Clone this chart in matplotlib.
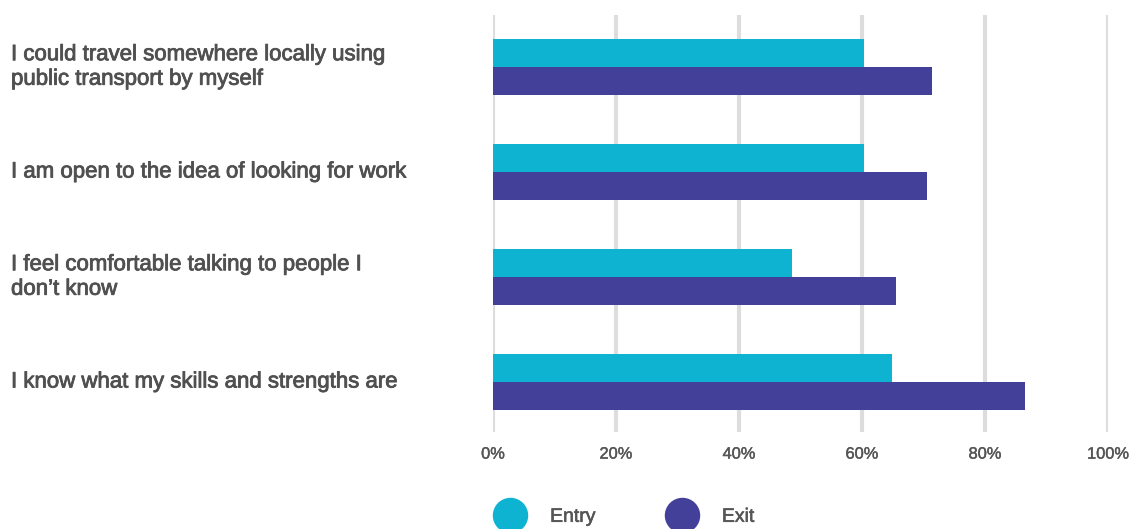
import matplotlib
matplotlib.use("Agg")
import matplotlib.pyplot as plt
import matplotlib.transforms as mtrans
import matplotlib.patheffects as pe
from matplotlib.lines import Line2D
import numpy as np

plt.rcParams['font.family'] = ['Liberation Sans', 'DejaVu Sans']

# data
kategorier = [
    "I could travel somewhere locally using\npublic transport by myself",
    "I am open to the idea of looking for work",
    "I feel comfortable talking to people I\ndon\u2019t know",
    "I know what my skills and strengths are",
]
entry = [60.3, 60.3, 48.6, 64.9]
exit_ = [71.4, 70.6, 65.5, 86.5]
xticks = [0, 20, 40, 60, 80, 100]
xticklabels = ["0%", "20%", "40%", "60%", "80%", "100%"]

farg_entry = "#0db3d0"
farg_exit = "#424098"
textfarg = "#555555"

W, H = 1131, 529
fig = plt.figure(figsize=(W / 100, H / 100), dpi=100)
ax = fig.add_axes([493 / W, (H - 432) / H, (1108 - 493) / W, (432 - 15) / H])

y = np.arange(len(kategorier))
h = 0.267
ax.barh(y - h / 2, entry, height=h, color=farg_entry, zorder=3)
ax.barh(y + h / 2, exit_, height=h, color=farg_exit, zorder=3)

ax.set_xlim(0, 100)
ax.set_ylim(3.476, -0.495)
ax.set_xticks(xticks)
ax.set_xticklabels(xticklabels, fontsize=11.8, color=textfarg)
ax.tick_params(axis="x", length=0, pad=10.5)
ax.set_yticks([])
for s in ax.spines.values():
    s.set_visible(False)
ax.grid(axis="x", color="#dddddd", linewidth=3, zorder=0)

# lite tjockare text (medium-vikt)
tjock = [pe.withStroke(linewidth=0.6, foreground="#505050")]
for t in ax.get_xticklabels():
    t.set_path_effects([pe.withStroke(linewidth=0.3, foreground=textfarg)])

# kategori-etiketter till vänster
trans = mtrans.blended_transform_factory(fig.transFigure, ax.transData)
for yi, lab in zip(y, kategorier):
    ax.text(11 / W, yi, lab, transform=trans, ha="left", va="center",
            fontsize=16, color="#505050", linespacing=1.22, path_effects=tjock)

# legend
handles = [
    Line2D([], [], marker="o", linestyle="none", markersize=24.5,
           markerfacecolor=farg_entry, markeredgecolor=farg_entry, label="Entry"),
    Line2D([], [], marker="o", linestyle="none", markersize=24.5,
           markerfacecolor=farg_exit, markeredgecolor=farg_exit, label="Exit"),
]
leg = fig.legend(handles=handles, loc="center left", bbox_to_anchor=(482.8 / W, (H - 517) / H),
                 ncol=2, frameon=False, fontsize=14, handletextpad=1.06, columnspacing=3.43,
                 labelcolor=textfarg, borderaxespad=0)
for t in leg.get_texts():
    t.set_path_effects([pe.withStroke(linewidth=0.4, foreground=textfarg)])

fig.savefig("out.png", dpi=100)
